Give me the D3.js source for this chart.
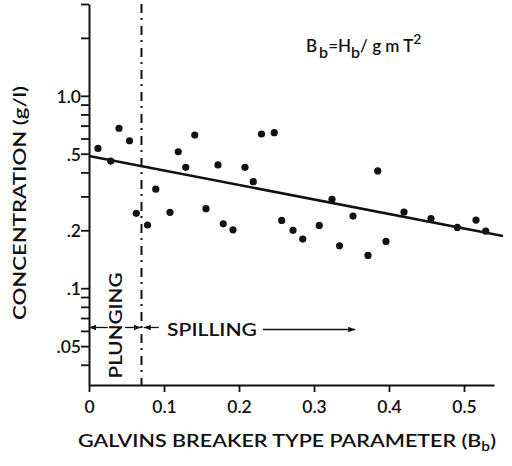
<!DOCTYPE html>
<html>
<head>
<meta charset="utf-8">
<script src="https://cdn.jsdelivr.net/npm/d3@7"></script>
<style>
  body { margin: 0; background: #fff; }
  svg text { font-family: Lato, "DejaVu Sans", sans-serif; font-weight: 700; fill: #111; }
</style>
</head>
<body>
<div id="chart"></div>
<script>
// breaker type parameter Bb vs concentration (g/l)
const bbValues = [0.012, 0.029, 0.040, 0.054, 0.063, 0.078, 0.089, 0.108, 0.119, 0.129,
  0.141, 0.156, 0.172, 0.179, 0.192, 0.208, 0.219, 0.230, 0.247, 0.257,
  0.272, 0.285, 0.307, 0.324, 0.334, 0.352, 0.372, 0.385, 0.396, 0.420,
  0.456, 0.491, 0.516, 0.529];
const concValues = [0.533, 0.458, 0.678, 0.584, 0.245, 0.213, 0.327, 0.248, 0.512, 0.425,
  0.625, 0.259, 0.437, 0.216, 0.201, 0.425, 0.358, 0.633, 0.643, 0.225,
  0.200, 0.180, 0.212, 0.290, 0.166, 0.237, 0.148, 0.407, 0.175, 0.249,
  0.230, 0.207, 0.226, 0.198];

// fitted line end points
const fitLine = [[0, 0.486], [0.552, 0.187]];

const xTicks = [0, 0.1, 0.2, 0.3, 0.4, 0.5];
const yTicks = [3, 2, 1, 0.9, 0.8, 0.7, 0.6, 0.5, 0.4, 0.3, 0.2, 0.1, 0.09, 0.08, 0.07, 0.06, 0.05, 0.04];
const yLabels = { 1: '1.0', 0.5: '.5', 0.2: '.2', 0.1: '.1', 0.05: '.05' };

const plungeLimit = 0.07;

const width = 512, height = 466;
const svg = d3.select('#chart').append('svg')
  .attr('width', width)
  .attr('height', height);

const x = d3.scaleLinear().domain([0, 0.54]).range([89, 494]);
const y = d3.scaleLog().domain([0.0314, 3]).range([385, 4]);

// axes
const xAxis = svg.append('g')
  .attr('transform', `translate(0,${y.range()[0]})`)
  .call(d3.axisBottom(x).tickValues(xTicks).tickSize(7).tickSizeOuter(0)
    .tickFormat(d => d === 0 ? '0' : d3.format('.1f')(d)));

const yAxis = svg.append('g')
  .attr('transform', `translate(${x.range()[0]},0)`)
  .call(d3.axisLeft(y).tickValues(yTicks).tickSize(8).tickSizeOuter(0)
    .tickFormat(d => yLabels[d] || ''));

[xAxis, yAxis].forEach(g => {
  g.select('.domain').attr('stroke', '#111').attr('stroke-width', 2);
  g.selectAll('.tick line').attr('stroke', '#111').attr('stroke-width', 1.8);
  g.selectAll('.tick text').style('font-size', '17.5px').style('font-weight', 600);
});
xAxis.selectAll('.tick text').attr('dy', '1.0em');
yAxis.selectAll('.tick text').attr('x', -8).attr('dy', '0.36em');

// plunging / spilling boundary
svg.append('line')
  .attr('x1', x(plungeLimit)).attr('x2', x(plungeLimit))
  .attr('y1', y(3)).attr('y2', y.range()[0])
  .attr('stroke', '#111')
  .attr('stroke-width', 2)
  .attr('stroke-dasharray', '9,5,2,6');

// regression line
svg.append('line')
  .attr('x1', x(fitLine[0][0])).attr('y1', y(fitLine[0][1]))
  .attr('x2', x(fitLine[1][0])).attr('y2', y(fitLine[1][1]))
  .attr('stroke', '#111')
  .attr('stroke-width', 2.6);

// points
svg.append('g').selectAll('circle')
  .data(bbValues)
  .join('circle')
  .attr('cx', d => x(d))
  .attr('cy', (d, i) => y(concValues[i]))
  .attr('r', 3.6)
  .attr('fill', '#111');

// arrow annotations
const defs = svg.append('defs');
defs.append('marker')
  .attr('id', 'arrow')
  .attr('viewBox', '0 0 10 10')
  .attr('refX', 10).attr('refY', 5)
  .attr('markerWidth', 7).attr('markerHeight', 7)
  .attr('markerUnits', 'userSpaceOnUse')
  .attr('orient', 'auto')
  .append('path')
  .attr('d', 'M0,1 L10,5 L0,9 Z')
  .attr('fill', '#111');

function arrow(x1, x2, yv) {
  svg.append('line')
    .attr('x1', x(x1)).attr('x2', x(x2))
    .attr('y1', y(yv)).attr('y2', y(yv))
    .attr('stroke', '#111')
    .attr('stroke-width', 1.3)
    .attr('marker-end', 'url(#arrow)');
}
const arrowY = 0.0625;
arrow(0.025, 0.0005, arrowY);
arrow(0.048, plungeLimit - 0.001, arrowY);
arrow(0.093, plungeLimit + 0.003, arrowY);
arrow(0.232, 0.355, 0.0610);

svg.append('text')
  .attr('x', x(0.104)).attr('y', y(0.0610))
  .attr('dy', '0.36em')
  .attr('textLength', 90)
  .attr('lengthAdjust', 'spacingAndGlyphs')
  .style('font-size', '17px')
  .style('font-weight', 600)
  .text('SPILLING');

svg.append('text')
  .attr('transform', `translate(${x(0.036) + 6},${y(0.064)}) rotate(-90)`)
  .attr('text-anchor', 'middle')
  .attr('textLength', 106)
  .attr('lengthAdjust', 'spacingAndGlyphs')
  .style('font-size', '17px')
  .style('font-weight', 600)
  .text('PLUNGING');

// formula
const formula = svg.append('text')
  .attr('x', 306).attr('y', 52)
  .style('font-size', '17px')
  .style('font-weight', 600);
formula.append('tspan').text('B');
formula.append('tspan').attr('dx', 2).attr('dy', 6).style('font-size', '16px').text('b');
formula.append('tspan').attr('dy', -6).text('=H');
formula.append('tspan').attr('dy', 6).style('font-size', '16px').text('b');
formula.append('tspan').attr('dy', -6).text('/ g m T');
formula.append('tspan').attr('dy', -8).style('font-size', '14px').text('2');

// axis titles
const xTitle = svg.append('text')
  .attr('x', 78).attr('y', 447)
  .attr('textLength', 418)
  .attr('lengthAdjust', 'spacingAndGlyphs')
  .style('font-size', '18px')
  .style('font-weight', 600);
xTitle.append('tspan').text('GALVINS BREAKER TYPE PARAMETER (B');
xTitle.append('tspan').attr('dy', 4).style('font-size', '13px').text('b');
xTitle.append('tspan').attr('dy', -4).text(')');

svg.append('text')
  .attr('transform', 'translate(26,203) rotate(-90)')
  .attr('text-anchor', 'middle')
  .attr('textLength', 234)
  .attr('lengthAdjust', 'spacingAndGlyphs')
  .style('font-size', '18px')
  .style('font-weight', 600)
  .text('CONCENTRATION (g/l)');
</script>
</body>
</html>
